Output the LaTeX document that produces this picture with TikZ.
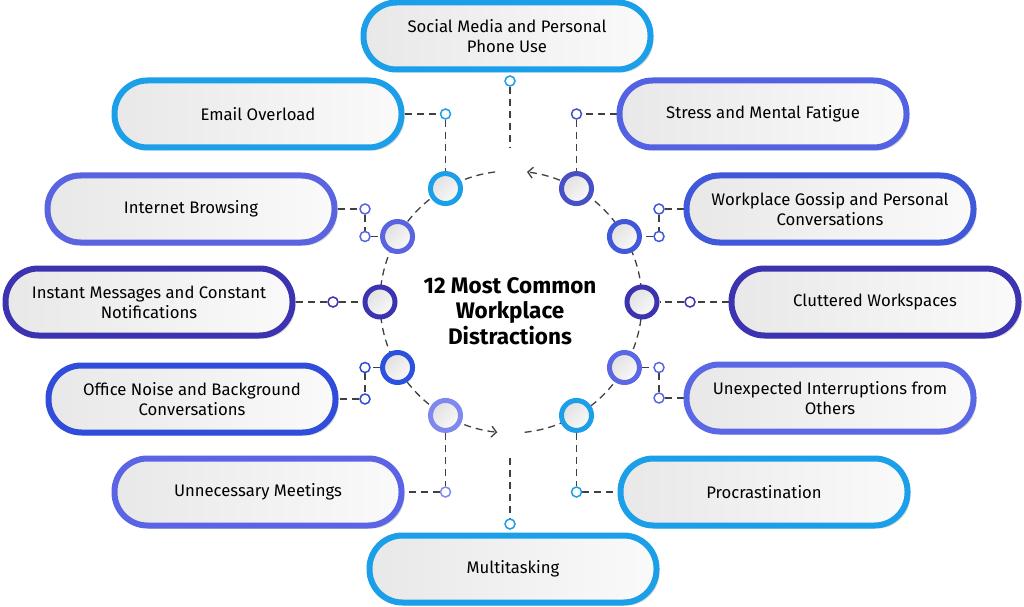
\documentclass[tikz,border=0pt]{standalone}
\usepackage{fontspec}
\setmainfont{Fira Sans}
\usetikzlibrary{shadows,arrows.meta,calc,backgrounds}
\definecolor{cyanC}{HTML}{1A9FE8}
\definecolor{interP}{HTML}{5A63E0}
\definecolor{stressP}{HTML}{5262E3}
\definecolor{stressC}{HTML}{4850C6}
\definecolor{gossipP}{HTML}{4058DA}
\definecolor{darkI}{HTML}{3B33B0}
\definecolor{officeP}{HTML}{2F4CDB}
\definecolor{officeC}{HTML}{2B52DF}
\definecolor{unexpP}{HTML}{5A68E6}
\definecolor{unnecP}{HTML}{5B64E4}
\definecolor{unnecC}{HTML}{7F88EE}
\definecolor{lineC}{HTML}{404040}
\tikzset{
  pill/.style={draw=#1, line width=6pt, rounded corners=33pt,
    minimum width=287pt, minimum height=67pt, inner sep=0pt,
    left color=black!9, right color=black!2, align=center,
    font={\fontsize{16.7}{20}\selectfont},
    drop shadow={shadow xshift=3pt, shadow yshift=-3pt, opacity=0.25, fill=black!60}},
  bigc/.style={circle, draw=#1, line width=5pt, minimum size=30pt, inner sep=0pt,
    left color=black!12, right color=black!2, shading angle=45,
    drop shadow={shadow xshift=1.5pt, shadow yshift=-1.5pt, opacity=0.2, fill=black!60}},
  smc/.style={circle, draw=#1, line width=1.5pt, fill=white, minimum size=10pt, inner sep=0pt},
  conn/.style={draw=lineC, line width=1.3pt, dash pattern=on 7pt off 5pt},
  tip/.style={-{Straight Barb[length=5pt,width=11pt,line width=1.3pt]}}
}
\begin{document}
\begin{tikzpicture}[x=1pt,y=1pt]
\useasboundingbox (0,0) rectangle (1024,606);
\coordinate (c) at (511,304);
% title
\node[font={\bfseries\fontsize{22.5}{25.5}\selectfont}, align=center] (title) at (510,295)
  {12 Most Common\\Workplace\\Distractions};
% pills
\node[pill=cyanC] (p1) at (507,570) {Social Media and Personal\\Phone Use};
\node[pill=cyanC] (p2) at (258,492) {Email Overload};
\node[pill=stressP] (p3) at (763,492) {Stress and Mental Fatigue};
\node[pill=interP] (p4) at (191,397) {Internet Browsing};
\node[pill=gossipP] (p5) at (830,397) {Workplace Gossip and Personal\\Conversations};
\node[pill=darkI] (p6) at (149,304) {Instant Messages and Constant\\Notifications};
\node[pill=darkI] (p7) at (875,304) {Cluttered Workspaces};
\node[pill=officeP] (p8) at (192,207) {Office Noise and Background\\Conversations};
\node[pill=unexpP] (p9) at (830,208) {Unexpected Interruptions from\\Others};
\node[pill=unnecP] (p10) at (258,114) {Unnecessary Meetings};
\node[pill=cyanC] (p11) at (764,114) {Procrastination};
\node[pill=cyanC] (p12) at (513,37) {Multitasking};
% big circles
\node[bigc=cyanC] (b120) at ($(c)+(120:131)$) {};
\node[bigc=interP] (b150) at ($(c)+(150:131)$) {};
\node[bigc=darkI] (b180) at ($(c)+(180:131)$) {};
\node[bigc=officeC] (b210) at ($(c)+(210:131)$) {};
\node[bigc=unnecC] (b240) at ($(c)+(240:131)$) {};
\node[bigc=cyanC] (b300) at ($(c)+(300:131)$) {};
\node[bigc=unexpP] (b330) at ($(c)+(330:131)$) {};
\node[bigc=darkI] (b0) at ($(c)+(0:131)$) {};
\node[bigc=gossipP] (b30) at ($(c)+(30:131)$) {};
\node[bigc=stressC] (b60) at ($(c)+(60:131)$) {};
% small circles
\node[smc=cyanC] (s1) at (510,525) {};
\node[smc=cyanC] (s2) at (445.5,492) {};
\node[smc=stressC] (s3) at (576.5,492) {};
\node[smc=interP] (s4a) at (365,397) {};
\node[smc=interP] (s4b) at (365,369.5) {};
\node[smc=gossipP] (s5a) at (659,397) {};
\node[smc=gossipP] (s5b) at (659,369.5) {};
\node[smc=darkI] (s6) at (333,304) {};
\node[smc=darkI] (s7) at (690,304) {};
\node[smc=officeP] (s8a) at (365,238.5) {};
\node[smc=officeP] (s8b) at (365,207) {};
\node[smc=unexpP] (s9a) at (659,238.5) {};
\node[smc=unexpP] (s9b) at (659,208) {};
\node[smc=unnecC] (s10) at (445.5,114) {};
\node[smc=cyanC] (s11) at (576.5,114) {};
\node[smc=cyanC] (s12) at (510,82) {};
\coordinate (s1e) at (510,459);
\coordinate (s12e) at (510,148);
\begin{pgfonlayer}{background}
\draw[conn] (s1) -- (s1e);
\draw[conn] (p2.east) -- (s2);
\draw[conn] (s2) -- (b120);
\draw[conn] (p3.west) -- (s3);
\draw[conn] (s3) -- (b60);
\draw[conn] (p4.east) -- (s4a);
\draw[conn] (s4a) -- (s4b);
\draw[conn] (s4b) -- (b150);
\draw[conn] (p5.west) -- (s5a);
\draw[conn] (s5a) -- (s5b);
\draw[conn] (s5b) -- (b30);
\draw[conn] (p6.east) -- (s6);
\draw[conn] (s6) -- (b180);
\draw[conn] (p7.west) -- (s7);
\draw[conn] (s7) -- (b0);
\draw[conn] (b210) -- (s8a);
\draw[conn] (s8a) -- (s8b);
\draw[conn] (s8b) -- (p8.east);
\draw[conn] (b330) -- (s9a);
\draw[conn] (s9a) -- (s9b);
\draw[conn] (s9b) -- (p9.west);
\draw[conn] (b240) -- (s10);
\draw[conn] (s10) -- (p10.east);
\draw[conn] (b300) -- (s11);
\draw[conn] (s11) -- (p11.west);
\draw[conn] (s12e) -- (s12);
\draw[conn, tip] ($(c)+(97:131)$) arc[start angle=97, end angle=264, radius=131];
\draw[conn, tip] ($(c)+(-84:131)$) arc[start angle=-84, end angle=83, radius=131];
\end{pgfonlayer}
\end{tikzpicture}
\end{document}
